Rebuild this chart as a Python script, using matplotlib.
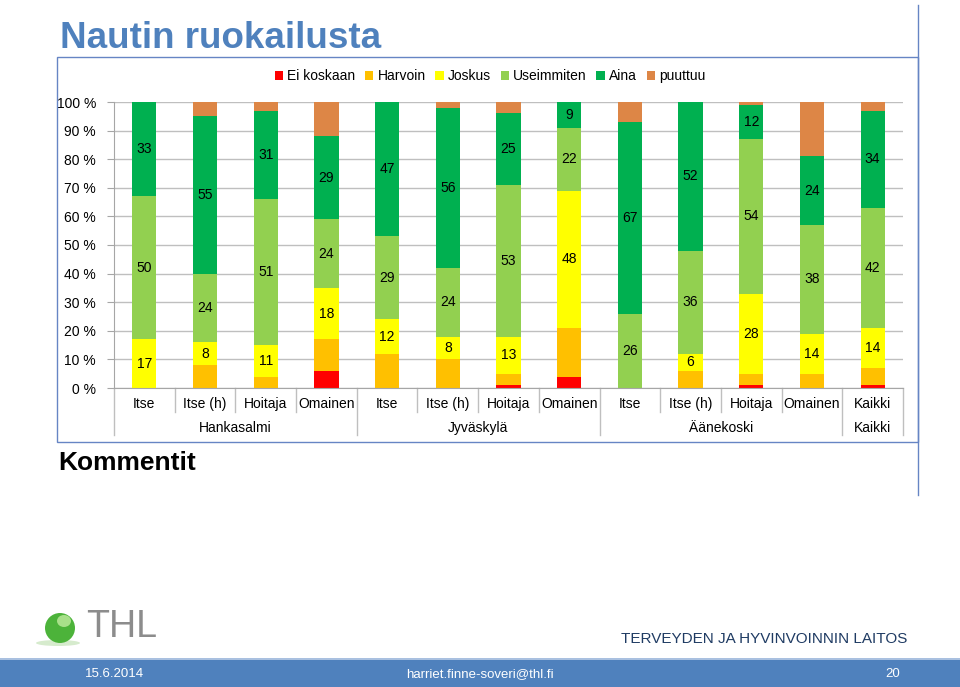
import numpy as np
import matplotlib.pyplot as plt
from matplotlib.patches import Patch, Rectangle, Ellipse
from matplotlib.lines import Line2D
from matplotlib.transforms import blended_transform_factory

plt.rcParams['font.family'] = ['Liberation Sans', 'DejaVu Sans']

# ---- data (percent) ----
categories = ["Itse", "Itse (h)", "Hoitaja", "Omainen",
              "Itse", "Itse (h)", "Hoitaja", "Omainen",
              "Itse", "Itse (h)", "Hoitaja", "Omainen", "Kaikki"]
groups = ["Hankasalmi", "Jyväskylä", "Äänekoski", "Kaikki"]
group_sizes = [4, 4, 4, 1]

ei_koskaan = [0, 0, 0, 6, 0, 0, 1, 4, 0, 0, 1, 0, 1]
harvoin = [0, 8, 4, 11, 12, 10, 4, 17, 0, 6, 4, 5, 6]
joskus = [17, 8, 11, 18, 12, 8, 13, 48, 0, 6, 28, 14, 14]
useimmiten = [50, 24, 51, 24, 29, 24, 53, 22, 26, 36, 54, 38, 42]
aina = [33, 55, 31, 29, 47, 56, 25, 9, 67, 52, 12, 24, 34]
puuttuu = [0, 5, 3, 12, 0, 2, 4, 0, 7, 0, 1, 19, 3]

series = [("Ei koskaan", ei_koskaan, "#FF0000", False),
          ("Harvoin", harvoin, "#FFC000", False),
          ("Joskus", joskus, "#FFFF00", True),
          ("Useimmiten", useimmiten, "#92D050", True),
          ("Aina", aina, "#00B050", True),
          ("puuttuu", puuttuu, "#DD8646", False)]

W, H = 960, 687
fig = plt.figure(figsize=(W / 100, H / 100), dpi=100)

# ---- slide decoration ----
frame = "#6685C4"
fig.add_artist(Rectangle((57 / W, 1 - 442 / H), (918 - 57) / W, (442 - 57) / H,
                         transform=fig.transFigure, fill=False, ec=frame, lw=1.0))
fig.add_artist(Line2D([918 / W, 918 / W], [1 - 5 / H, 1 - 495 / H],
                      transform=fig.transFigure, color=frame, lw=1.0))
fig.text(60 / W, 1 - 39 / H, "Nautin ruokailusta", color="#4F81BD",
         fontsize=26.5, fontweight="bold", va="center", ha="left")
fig.text(58 / W, 1 - 463 / H, "Kommentit", color="black",
         fontsize=19, fontweight="bold", va="center", ha="left")

# footer band
fig.add_artist(Rectangle((0, 0), 1, 27 / H, transform=fig.transFigure,
                         color="#4F81BD", lw=0))
fig.add_artist(Rectangle((0, 27 / H), 1, 2 / H, transform=fig.transFigure,
                         color="#A9C0E0", lw=0))
fig.text(85 / W, 13 / H, "15.6.2014", color="white", fontsize=9.5, va="center")
fig.text(480 / W, 13 / H, "harriet.finne-soveri@thl.fi", color="white",
         fontsize=9.5, va="center", ha="center")
fig.text(893 / W, 13 / H, "20", color="white", fontsize=9.5, va="center", ha="center")
fig.text(907 / W, 1 - 639 / H, "TERVEYDEN JA HYVINVOINNIN LAITOS", color="#1F3B63",
         fontsize=11, va="center", ha="right")

# THL logo
fig.add_artist(Ellipse((60 / W, 1 - 628 / H), 30 / W, 30 / H,
                       transform=fig.transFigure, color="#4CB33A", lw=0))
fig.add_artist(Ellipse((64 / W, 1 - 621 / H), 14 / W, 12 / H,
                       transform=fig.transFigure, color="#A8E08A", lw=0))
fig.add_artist(Ellipse((58 / W, 1 - 643 / H), 44 / W, 6 / H,
                       transform=fig.transFigure, color="#D6EBCD", lw=0, zorder=0))
fig.text(86 / W, 1 - 627 / H, "THL", color="#8C8C8C", fontsize=27, va="center")

# ---- chart ----
ax = fig.add_axes([114 / W, 1 - 388 / H, (903 - 114) / W, (388 - 102) / H])
x = np.arange(len(categories))
bottom = np.zeros(len(categories))
handles = []
for name, vals, color, labelled in series:
    vals = np.array(vals, dtype=float)
    ax.bar(x, vals, 0.4, bottom=bottom, color=color, zorder=2)
    if labelled:
        for xi, b, v in zip(x, bottom, vals):
            if v > 0:
                ax.text(xi, b + v / 2, f"{int(v)}", ha="center", va="center",
                        fontsize=10, color="black", zorder=3)
    bottom += vals
    handles.append(Patch(facecolor=color, edgecolor="none", label=name))

ax.set_xlim(-0.5, len(categories) - 0.5)
ax.set_ylim(0, 100)
ax.set_yticks(np.arange(0, 101, 10))
ax.set_yticklabels([f"{v} %" for v in range(0, 101, 10)], fontsize=10)
ax.yaxis.grid(True, color="#BFBFBF", lw=1.0, zorder=0)
ax.set_axisbelow(True)
for s in ["top", "right"]:
    ax.spines[s].set_visible(False)
ax.spines["left"].set_color("#A6A6A6")
ax.spines["bottom"].set_color("#A6A6A6")
ax.tick_params(axis="y", length=5, color="#A6A6A6", pad=8)
ax.set_xticks([])

# two-level category axis
tr = blended_transform_factory(ax.transData, ax.transAxes)
for xi, c in zip(x, categories):
    ax.text(xi, -0.056, c, transform=tr, ha="center", va="center", fontsize=10)
edges = np.concatenate([[0], np.cumsum(group_sizes)]) - 0.5
start = 0
for g, n in zip(groups, group_sizes):
    ax.text(start + (n - 1) / 2, -0.14, g, transform=tr, ha="center",
            va="center", fontsize=10)
    start += n
for b in np.arange(-0.5, len(categories)):
    depth = 0.164 if np.any(np.isclose(edges, b)) else 0.084
    ax.plot([b, b], [0, -depth], transform=tr, color="#BFBFBF", lw=1.0,
            clip_on=False)

fig.legend(handles=handles, loc="center", bbox_to_anchor=(490 / W, 1 - 76 / H),
           ncol=6, frameon=False, fontsize=10, handlelength=0.6,
           handleheight=0.6, handletextpad=0.3, columnspacing=0.7)

fig.savefig("out.png", dpi=100)
